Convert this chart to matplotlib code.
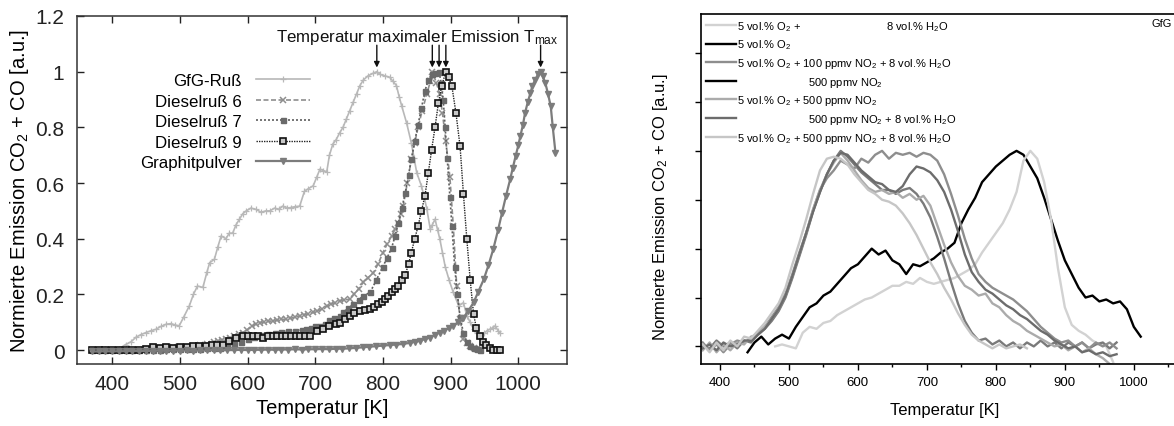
import numpy as np
import matplotlib
matplotlib.use("Agg")
import matplotlib.pyplot as plt
from matplotlib.ticker import MultipleLocator

plt.rcParams['font.family'] = ['Liberation Sans', 'DejaVu Sans']
plt.rcParams['mathtext.fontset'] = 'custom'
plt.rcParams['mathtext.rm'] = 'Liberation Sans'
plt.rcParams['mathtext.it'] = 'Liberation Sans:italic'
plt.rcParams['mathtext.bf'] = 'Liberation Sans:bold'

# ---------------- left panel data (T in K, normalised emission) ----------------
gfg_T = [370, 380, 390, 400, 410, 420, 428, 435, 442, 450, 458, 465, 472, 480, 487, 493, 499, 506,
         514, 520, 526, 534, 540, 544, 551, 556, 561, 568, 573, 578, 583, 588, 593, 598, 605, 613,
         620, 627, 633, 640, 646, 652, 658, 664, 670, 677, 684, 690, 697, 702, 707, 712, 717, 721,
         726, 731, 736, 741, 746, 751, 756, 761, 766, 771, 778, 786, 791, 796, 803, 810, 815, 820,
         824, 828, 835, 842, 846, 850, 857, 861, 865, 870, 873, 877, 881, 884, 888, 892, 898, 904,
         912, 919, 924, 929, 934, 939, 944, 950, 954, 958, 962, 966, 970, 973]
gfg_y = [0.0, 0.0, 0.005, 0.0, 0.005, 0.02, 0.03, 0.046, 0.055, 0.063, 0.07, 0.075, 0.085, 0.093,
         0.095, 0.09, 0.087, 0.12, 0.159, 0.2, 0.23, 0.225, 0.28, 0.314, 0.326, 0.37, 0.41, 0.4,
         0.42, 0.42, 0.45, 0.47, 0.49, 0.5, 0.51, 0.505, 0.495, 0.5, 0.5, 0.51, 0.505, 0.517, 0.51,
         0.512, 0.515, 0.517, 0.57, 0.58, 0.59, 0.62, 0.65, 0.645, 0.64, 0.70, 0.74, 0.756, 0.78,
         0.80, 0.83, 0.86, 0.89, 0.92, 0.95, 0.97, 0.985, 0.995, 1.0, 0.99, 0.985, 0.98, 0.965,
         0.95, 0.91, 0.875, 0.816, 0.744, 0.69, 0.637, 0.589, 0.55, 0.505, 0.434, 0.45, 0.47, 0.43,
         0.40, 0.35, 0.30, 0.25, 0.207, 0.159, 0.17, 0.123, 0.1, 0.075, 0.06, 0.051, 0.06, 0.07,
         0.075, 0.08, 0.087, 0.07, 0.063]

d6_T = [370, 380, 390, 400, 410, 420, 430, 440, 450, 460, 470, 480, 490, 500, 510, 520, 530, 540,
        550, 556, 562, 568, 574, 580, 587, 593, 599, 606, 612, 618, 624, 630, 637, 643, 650, 657,
        663, 670, 677, 683, 690, 697, 703, 710, 717, 723, 729, 736, 743, 751, 757, 764, 771, 778,
        786, 793, 800, 806, 813, 818, 823, 827, 830, 836, 842, 847, 852, 858, 865, 870, 873, 879,
        884, 888, 893, 899, 904, 909, 914, 919, 924, 929, 934, 939, 944]
d6_y = [0.0, 0.0, 0.0, 0.0, 0.0, 0.0, 0.002, 0.002, 0.003, 0.005, 0.006, 0.008, 0.01, 0.01, 0.012,
        0.015, 0.018, 0.022, 0.028, 0.033, 0.036, 0.04, 0.045, 0.05, 0.057, 0.063, 0.072, 0.085,
        0.094, 0.099, 0.1, 0.103, 0.105, 0.107, 0.11, 0.111, 0.114, 0.118, 0.123, 0.127, 0.13,
        0.135, 0.14, 0.148, 0.159, 0.165, 0.17, 0.177, 0.18, 0.183, 0.2, 0.22, 0.243, 0.26, 0.278,
        0.31, 0.35, 0.38, 0.41, 0.435, 0.457, 0.49, 0.517, 0.6, 0.685, 0.745, 0.80, 0.86, 0.92,
        0.965, 1.0, 0.96, 0.92, 0.85, 0.75, 0.62, 0.445, 0.23, 0.11, 0.04, 0.025, 0.015, 0.008,
        0.004, 0.003]

d7_T = [370, 380, 390, 400, 410, 420, 430, 440, 450, 460, 470, 480, 490, 500, 510, 520, 530, 540,
        550, 560, 570, 580, 590, 600, 610, 620, 630, 640, 650, 660, 670, 680, 687, 694, 700, 707,
        714, 721, 728, 736, 741, 748, 756, 764, 771, 781, 790, 800, 806, 813, 818, 823, 828, 833,
        838, 842, 847, 852, 857, 862, 867, 872, 877, 883, 886, 889, 892, 895, 899, 902, 906, 910,
        914, 919, 924, 929, 934, 939, 944]
d7_y = [0.0, 0.0, 0.0, 0.0, 0.0, 0.0, 0.0, 0.001, 0.001, 0.002, 0.002, 0.003, 0.003, 0.004, 0.004,
        0.005, 0.005, 0.006, 0.006, 0.008, 0.015, 0.022, 0.03, 0.04, 0.048, 0.053, 0.058, 0.062,
        0.066, 0.068, 0.07, 0.073, 0.075, 0.08, 0.085, 0.087, 0.095, 0.108, 0.115, 0.123, 0.135,
        0.15, 0.165, 0.18, 0.195, 0.207, 0.25, 0.30, 0.33, 0.368, 0.41, 0.457, 0.51, 0.565, 0.63,
        0.685, 0.75, 0.81, 0.87, 0.93, 0.97, 0.99, 0.995, 1.0, 0.96, 0.9, 0.8, 0.69, 0.55, 0.445,
        0.3, 0.2, 0.12, 0.06, 0.03, 0.015, 0.008, 0.004, 0.002]

d9_T = [370, 380, 390, 400, 410, 420, 430, 440, 450, 460, 470, 480, 490, 500, 510, 520, 529, 538,
        547, 555, 563, 573, 583, 593, 600, 608, 616, 623, 630, 637, 644, 651, 657, 664, 671, 677,
        685, 692, 702, 712, 721, 731, 736, 744, 751, 758, 766, 773, 781, 787, 793, 798, 803, 808,
        813, 818, 823, 828, 833, 838, 842, 847, 852, 857, 862, 867, 872, 877, 882, 887, 893, 897,
        902, 908, 914, 919, 924, 929, 934, 938, 943, 948, 953, 958, 963, 968, 973]
d9_y = [0.0, 0.0, 0.0, 0.0, 0.0, 0.0, 0.0, 0.0, 0.005, 0.01, 0.008, 0.01, 0.008, 0.01, 0.012, 0.013,
        0.015, 0.015, 0.017, 0.018, 0.02, 0.033, 0.045, 0.051, 0.05, 0.051, 0.049, 0.045, 0.049,
        0.051, 0.05, 0.051, 0.051, 0.05, 0.051, 0.051, 0.05, 0.051, 0.069, 0.075, 0.087, 0.093,
        0.099, 0.11, 0.123, 0.132, 0.141, 0.145, 0.147, 0.156, 0.165, 0.174, 0.183, 0.195, 0.207,
        0.218, 0.23, 0.25, 0.27, 0.31, 0.35, 0.4, 0.445, 0.5, 0.553, 0.635, 0.72, 0.8, 0.888, 0.95,
        1.0, 0.98, 0.947, 0.85, 0.732, 0.56, 0.398, 0.25, 0.129, 0.08, 0.051, 0.03, 0.018, 0.008,
        0.001, 0.001, 0.001]

gr_T = [370, 380, 390, 400, 410, 420, 430, 440, 450, 460, 470, 480, 490, 500, 510, 520, 530, 540,
        550, 560, 570, 580, 590, 600, 610, 620, 630, 640, 650, 660, 670, 680, 690, 700, 710, 720,
        730, 740, 750, 760, 771, 780, 790, 800, 810, 820, 830, 840, 848, 855, 862, 870, 877, 884,
        890, 897, 904, 911, 919, 926, 934, 941, 949, 956, 963, 970, 976, 982, 988, 992, 996, 1000,
        1003, 1007, 1010, 1014, 1018, 1021, 1025, 1029, 1033, 1036, 1040, 1044, 1048, 1051, 1055]
gr_y = [-0.005, -0.005, -0.004, -0.005, -0.004, -0.004, -0.003, -0.004, -0.003, -0.003, -0.002,
        -0.003, -0.002, -0.002, -0.001, -0.002, -0.001, -0.001, 0.0, -0.001, 0.0, 0.0, 0.001, 0.0,
        0.001, 0.001, 0.002, 0.001, 0.002, 0.002, 0.003, 0.002, 0.003, 0.003, 0.004, 0.003, 0.005,
        0.005, 0.006, 0.008, 0.01, 0.012, 0.014, 0.016, 0.018, 0.02, 0.022, 0.026, 0.03, 0.033,
        0.04, 0.045, 0.055, 0.063, 0.07, 0.078, 0.087, 0.1, 0.117, 0.14, 0.171, 0.21, 0.254, 0.305,
        0.362, 0.43, 0.493, 0.555, 0.613, 0.655, 0.696, 0.735, 0.768, 0.81, 0.852, 0.89, 0.924,
        0.95, 0.971, 0.99, 1.0, 0.985, 0.959, 0.92, 0.875, 0.8, 0.708]

left_labels = ["GfG-Ruß", "Dieselruß 6", "Dieselruß 7", "Dieselruß 9", "Graphitpulver"]
left_xticks = [400, 500, 600, 700, 800, 900, 1000]
left_yticks = [0, 0.2, 0.4, 0.6, 0.8, 1.0, 1.2]
left_yticklabels = ["0", "0.2", "0.4", "0.6", "0.8", "1", "1.2"]

# ---------------- right panel data ----------------
T_early = np.arange(375, 976, 10)
T_o2h2o = np.arange(480, 971, 10)
T_o2 = np.arange(440, 1011, 10)

o2h2o = [0.0, 0.01, 0.0, -0.01, 0.07, 0.1, 0.09, 0.12, 0.13, 0.16,
         0.18, 0.2, 0.22, 0.24, 0.25, 0.27, 0.29, 0.31, 0.31, 0.33,
         0.32, 0.35, 0.33, 0.32, 0.33, 0.34, 0.35, 0.37, 0.39, 0.42,
         0.48, 0.53, 0.58, 0.63, 0.7, 0.79, 0.95, 1.0, 0.96, 0.84,
         0.65, 0.4, 0.2, 0.11, 0.08, 0.06, 0.03, 0.01, 0.0, -0.08]
o2_only = [-0.03, 0.02, 0.05, 0.01, 0.04, 0.06, 0.04, 0.1, 0.15, 0.2,
           0.22, 0.26, 0.28, 0.32, 0.36, 0.4, 0.42, 0.46, 0.5, 0.47,
           0.49, 0.44, 0.42, 0.37, 0.42, 0.41, 0.43, 0.45, 0.48, 0.5,
           0.53, 0.63, 0.7, 0.76, 0.84, 0.88, 0.92, 0.95, 0.98, 1.0,
           0.98, 0.92, 0.86, 0.76, 0.65, 0.54, 0.44, 0.37, 0.3, 0.25,
           0.26, 0.23, 0.24, 0.22, 0.23, 0.19, 0.1, 0.05]
no2_100_h2o = [0.02, -0.02, 0.01, -0.03, 0.01, 0.03, 0.02, 0.04, 0.07, 0.1,
               0.15, 0.2, 0.27, 0.37, 0.48, 0.58, 0.7, 0.8, 0.86, 0.9,
               0.95, 0.93, 0.91, 0.96, 0.94, 0.98, 1.0, 0.96, 0.99, 0.98,
               0.99, 0.97, 0.99, 0.98, 0.95, 0.88, 0.78, 0.67, 0.55, 0.45,
               0.37, 0.33, 0.3, 0.28, 0.26, 0.24, 0.21, 0.18, 0.14, 0.1,
               0.07, 0.04, 0.02, 0.03, 0.0, 0.02, -0.01, 0.02, 0.0, 0.02,
               -0.01]
o2_no2 = [-0.02, 0.02, -0.03, 0.01, -0.02, 0.02, 0.01, 0.05, 0.06, 0.1,
          0.14, 0.19, 0.26, 0.36, 0.47, 0.58, 0.7, 0.8, 0.88, 0.94,
          0.99, 0.95, 0.9, 0.85, 0.81, 0.79, 0.8, 0.78, 0.79, 0.76,
          0.78, 0.75, 0.77, 0.72, 0.62, 0.52, 0.43, 0.36, 0.31, 0.29,
          0.26, 0.27, 0.22, 0.2, 0.16, 0.13, 0.11, 0.08, 0.06, 0.04,
          0.02, 0.0, 0.01, -0.02, 0.0, -0.03, -0.01, -0.04, -0.06, -0.09,
          -0.1]
no2_h2o = [-0.01, 0.01, -0.02, 0.02, 0.0, 0.01, 0.03, 0.03, 0.06, 0.09,
           0.14, 0.19, 0.26, 0.36, 0.47, 0.58, 0.69, 0.79, 0.88, 0.95,
           0.99, 0.98, 0.94, 0.9, 0.87, 0.84, 0.83, 0.8, 0.79, 0.82,
           0.88, 0.92, 0.91, 0.89, 0.85, 0.79, 0.7, 0.59, 0.47, 0.38,
           0.33, 0.29, 0.27, 0.24, 0.21, 0.19, 0.16, 0.14, 0.11, 0.08,
           0.06, 0.03, 0.01, -0.01, 0.0, -0.03, -0.02, -0.04, -0.03, -0.05,
           -0.04]
o2_no2_h2o = [0.01, -0.03, 0.02, -0.02, 0.03, 0.0, 0.05, 0.04, 0.08, 0.12,
              0.17, 0.22, 0.3, 0.42, 0.53, 0.65, 0.78, 0.9, 0.96, 0.97,
              0.96, 0.93, 0.88, 0.84, 0.8, 0.78, 0.75, 0.74, 0.72, 0.68,
              0.63, 0.57, 0.5, 0.43, 0.37, 0.3, 0.24, 0.17, 0.11, 0.06,
              0.03, 0.01, -0.01, 0.01, -0.01, 0.0, 0.01, -0.01]
extra_run = [0.0, -0.01, 0.03, 0.0, 0.02, -0.01, 0.03, 0.02, 0.06, 0.09,
             0.13, 0.18, 0.25, 0.35, 0.46, 0.57, 0.69, 0.79, 0.88, 0.95,
             1.0, 0.97, 0.93, 0.89, 0.86, 0.83, 0.8, 0.8, 0.78, 0.8,
             0.81, 0.78, 0.73, 0.66, 0.56, 0.45, 0.33, 0.22, 0.13, 0.07,
             0.03, 0.04, 0.01, 0.03, 0.0, 0.02, -0.01, 0.02, 0.0, 0.03,
             0.0, 0.02, -0.01, 0.02, 0.0, 0.02, -0.01, 0.01, 0.02, -0.01,
             0.02]

right_labels = [
    "5 vol.% O$_2$ +" + " " * 28 + "8 vol.% H$_2$O",
    "5 vol.% O$_2$",
    "5 vol.% O$_2$ + 100 ppmv NO$_2$ + 8 vol.% H$_2$O",
    " " * 23 + "500 ppmv NO$_2$",
    "5 vol.% O$_2$ + 500 ppmv NO$_2$",
    " " * 23 + "500 ppmv NO$_2$ + 8 vol.% H$_2$O",
    "5 vol.% O$_2$ + 500 ppmv NO$_2$ + 8 vol.% H$_2$O",
]
right_xticks = [400, 500, 600, 700, 800, 900, 1000]

fig = plt.figure(figsize=(11.74, 4.27), dpi=100)

# ---------------- left panel ----------------
ax = fig.add_axes([77 / 1174, 62 / 427, 490 / 1174, 348 / 427])
l1, = ax.plot(gfg_T, gfg_y, color='#b8b8b8', lw=1.2, marker='+', ms=4, mew=0.9)
l2, = ax.plot(d6_T, d6_y, color='#8e8e8e', lw=1.2, ls=(0, (3, 1.5)), marker='x', ms=4, mew=1.1)
l3, = ax.plot(d7_T, d7_y, color='#5e5e5e', lw=1.2, ls=(0, (1.2, 1.2)), marker='s', ms=3.6,
              mfc='#6a6a6a', mec='#6a6a6a')
l4, = ax.plot(d9_T, d9_y, color='#222222', lw=1.0, ls=(0, (1, 0.8)), marker='s', ms=4.6,
              mfc='#c8c8c8', mec='#111111', mew=1.2)
l5, = ax.plot(gr_T, gr_y, color='#7c7c7c', lw=1.6, marker='v', ms=4.5, mfc='#7c7c7c', mec='#7c7c7c')

ax.set_xlim(348, 1072)
ax.set_ylim(-0.05, 1.2)
ax.set_xticks(left_xticks)
ax.set_yticks(left_yticks)
ax.set_yticklabels(left_yticklabels)
ax.tick_params(direction='in', length=5, width=1, top=True, right=True,
               labelsize=15, colors='#222222')
ax.tick_params(axis='x', pad=7)
ax.tick_params(axis='y', pad=9)
for s in ax.spines.values():
    s.set_linewidth(1.1)
    s.set_color('#333333')
ax.set_xlabel("Temperatur [K]", fontsize=14.5, labelpad=4)
ax.set_ylabel("Normierte Emission CO$_2$ + CO [a.u.]", fontsize=14.5, labelpad=3)

leg = ax.legend([l1, l2, l3, l4, l5], left_labels, loc='upper right',
                bbox_to_anchor=(0.475, 0.835), frameon=False, fontsize=12.2,
                markerfirst=False, handlelength=3.2, handletextpad=0.8,
                labelspacing=0.32, borderpad=0, borderaxespad=0)

# arrows at the temperature of maximum emission of each curve
ax.text(850, 1.125, "Temperatur maximaler Emission T$_{\\mathrm{max}}$", ha='center',
        va='center', fontsize=12.2, color='#111111')
for T, y in [(gfg_T, gfg_y), (d6_T, d6_y), (d7_T, d7_y), (d9_T, d9_y), (gr_T, gr_y)]:
    tmax = T[int(np.argmax(y))]
    ax.annotate("", xy=(tmax, 1.015), xytext=(tmax, 1.095),
                arrowprops=dict(arrowstyle='-|>', color='#111111', lw=1.0,
                                mutation_scale=8, shrinkA=0, shrinkB=0))

# ---------------- right panel ----------------
ax2 = fig.add_axes([701 / 1174, 62 / 427, 488 / 1174, 350 / 427])
lw = 1.7
h2, = ax2.plot(T_o2, o2_only, color='#000000', lw=lw)
h1, = ax2.plot(T_o2h2o, o2h2o, color='#d2d2d2', lw=lw)
ax2.plot(T_early, extra_run, color='#7a7a7a', lw=lw)
h3, = ax2.plot(T_early, no2_100_h2o, color='#8e8e8e', lw=lw)
h5, = ax2.plot(T_early, o2_no2, color='#ababab', lw=lw)
h6, = ax2.plot(T_early, no2_h2o, color='#6c6c6c', lw=lw)
h7, = ax2.plot(T_early[:len(o2_no2_h2o)], o2_no2_h2o, color='#c6c6c6', lw=lw)
h4, = ax2.plot([], [], color='#000000', lw=lw)

ax2.set_xlim(372.5, 1080)
ax2.set_ylim(-0.09, 1.70)
ax2.set_xticks(right_xticks)
ax2.xaxis.set_minor_locator(MultipleLocator(50))
ax2.set_yticks([0, 0.25, 0.5, 0.75, 1.0, 1.25, 1.5])
ax2.set_yticklabels([])
ax2.tick_params(direction='out', length=4, width=1, labelsize=9.5, pad=5)
ax2.tick_params(which='minor', direction='out', length=2.5, width=1)
ax2.spines['right'].set_visible(False)
for s in ax2.spines.values():
    s.set_linewidth(1.2)
ax2.set_xlabel("Temperatur [K]", fontsize=12, labelpad=10)
ax2.set_ylabel("Normierte Emission CO$_2$ + CO [a.u.]", fontsize=12)
ax2.yaxis.set_label_coords(-0.064, 0.45)

ax2.legend([h1, h2, h3, h4, h5, h6, h7], right_labels, loc='upper left',
           bbox_to_anchor=(0, 1), frameon=False, fontsize=8, handlelength=2.7,
           handletextpad=0.1, labelspacing=0.42, borderpad=0.45, borderaxespad=0)
fig.text(1172 / 1174, 1 - 24 / 427, "GfG", fontsize=8, va='center', ha='right')

fig.savefig("out.png", dpi=100)
